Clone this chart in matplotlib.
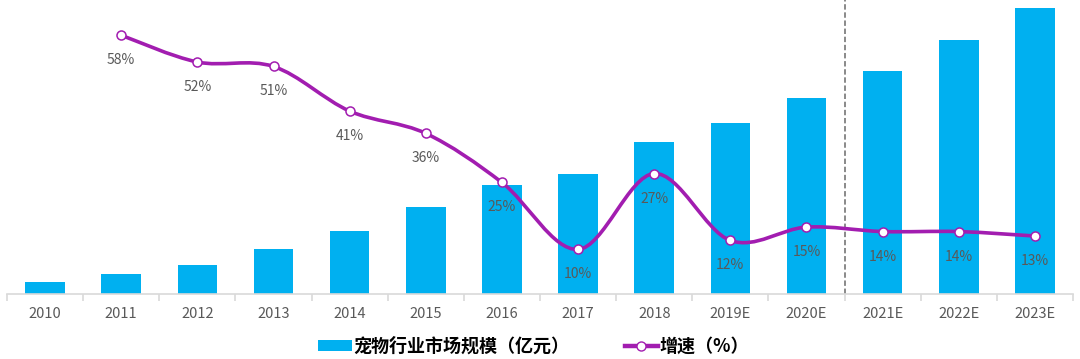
import matplotlib
matplotlib.use('Agg')
import matplotlib.pyplot as plt
from matplotlib.path import Path
from matplotlib.patches import PathPatch
from matplotlib.lines import Line2D
from matplotlib.patches import Patch
import numpy as np

plt.rcParams['font.family'] = ['Noto Sans CJK SC', 'DejaVu Sans']

years = ['2010', '2011', '2012', '2013', '2014', '2015', '2016', '2017', '2018',
         '2019E', '2020E', '2021E', '2022E', '2023E']
market = [140, 220, 330, 500, 710, 978, 1220, 1340, 1708, 1915, 2195, 2500, 2845, 3203]
growth_years = years[1:]
growth = [58, 52, 51, 41, 36, 25, 10, 27, 12, 15, 14, 14, 13]

bar_color = '#00B0F0'
line_color = '#A21DB0'
text_gray = '#595959'

fig = plt.figure(figsize=(10.8, 3.59), dpi=100)
ax = fig.add_axes([0.0065, 0.181, 0.987, 0.819])
x = np.arange(len(years))
ax.bar(x, market, width=0.52, color=bar_color, zorder=2)
ax.set_xlim(-0.5, len(years) - 0.5)
ax.set_ylim(0, 3293)
ax.set_yticks([])
for s in ['top', 'right', 'left']:
    ax.spines[s].set_visible(False)
ax.spines['bottom'].set_color('#D9D9D9')
ax.spines['bottom'].set_linewidth(1.2)
ax.set_xticks(x)
ax.set_xticklabels(years, fontsize=10.5, color=text_gray)
ax.set_xticks(np.arange(-0.5, len(years)), minor=True)
ax.tick_params(axis='x', which='major', length=0, pad=9)
ax.tick_params(axis='x', which='minor', length=5, color='#D9D9D9', width=1.2)

# divider between actual and forecast
ax.axvline(10.5, color='#808080', linestyle=(0, (3, 1.5)), linewidth=1.3, zorder=1)

ax2 = ax.twinx()
ax2.set_ylim(0, 65.9)
ax2.set_yticks([])
for s in ['top', 'right', 'left', 'bottom']:
    ax2.spines[s].set_visible(False)

gx = np.array([years.index(y) for y in growth_years], dtype=float)
gy = np.array(growth, dtype=float)
pts = np.column_stack([gx, gy])
# smoothed line (Catmull-Rom as cubic Bezier)
verts = [pts[0]]
codes = [Path.MOVETO]
n = len(pts)
for i in range(n - 1):
    p0 = pts[i - 1] if i > 0 else pts[i]
    p1 = pts[i]
    p2 = pts[i + 1]
    p3 = pts[i + 2] if i + 2 < n else pts[i + 1]
    c1 = p1 + (p2 - p0) / 6
    c2 = p2 - (p3 - p1) / 6
    verts += [c1, c2, p2]
    codes += [Path.CURVE4] * 3
curve = PathPatch(Path(verts, codes), facecolor='none', edgecolor=line_color,
                  linewidth=2.6, zorder=3)
ax2.add_patch(curve)
ax2.plot(gx, gy, linestyle='none', marker='o', markersize=6.5,
         markerfacecolor='white', markeredgecolor=line_color,
         markeredgewidth=1.1, zorder=4)
for xi, yi in zip(gx, gy):
    ax2.annotate(f'{yi:.0f}%', (xi, yi), xytext=(0, -18), textcoords='offset points',
                 ha='center', va='center', fontsize=10, color=text_gray, zorder=5)

handles = [Patch(facecolor=bar_color, edgecolor='none'),
           Line2D([0], [0], color=line_color, linewidth=3.2, marker='o', markersize=6.5,
                  markerfacecolor='white', markeredgecolor=line_color)]
labels = ['宠物行业市场规模（亿元）', '增速（%）']
fig.legend(handles, labels, loc='center', bbox_to_anchor=(0.494, 0.035), ncol=2,
           frameon=False, prop={'size': 13, 'weight': 'bold'},
           handlelength=1.85, handleheight=0.5, handletextpad=0.05, columnspacing=3.1)

fig.savefig('out.png', dpi=100)
